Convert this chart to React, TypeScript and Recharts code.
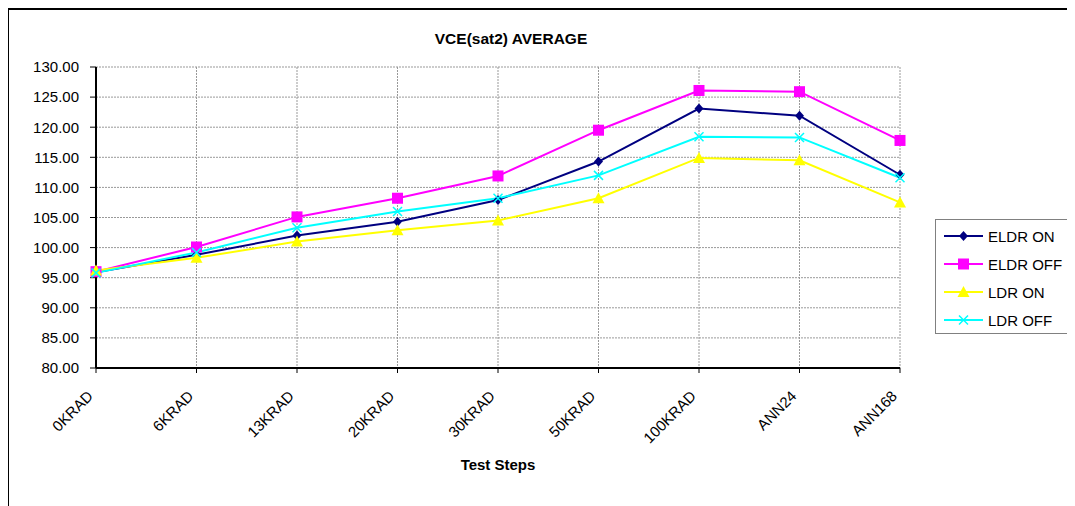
import React from "react";
import { LineChart, Line, XAxis, YAxis, CartesianGrid, Label } from "recharts";

const categories = ["0KRAD", "6KRAD", "13KRAD", "20KRAD", "30KRAD", "50KRAD", "100KRAD", "ANN24", "ANN168"];
const eldrOn = [95.9, 98.8, 102.0, 104.3, 107.9, 114.3, 123.1, 121.9, 112.1];
const eldrOff = [96.0, 100.1, 105.1, 108.2, 111.9, 119.5, 126.1, 125.9, 117.8];
const ldrOn = [96.2, 98.3, 101.0, 102.9, 104.5, 108.2, 114.9, 114.5, 107.5];
const ldrOff = [95.8, 99.2, 103.3, 106.0, 108.2, 112.0, 118.4, 118.3, 111.6];
const yTicks = [80, 85, 90, 95, 100, 105, 110, 115, 120, 125, 130];

const data = categories.map((name, i) => ({
  name,
  eldrOn: eldrOn[i],
  eldrOff: eldrOff[i],
  ldrOn: ldrOn[i],
  ldrOff: ldrOff[i],
}));

const FONT = "'Liberation Sans', Arial, sans-serif";

type MarkerKind = "diamond" | "square" | "triangle" | "cross";

const series: { key: string; name: string; color: string; marker: MarkerKind }[] = [
  { key: "eldrOn", name: "ELDR ON", color: "#000080", marker: "diamond" },
  { key: "eldrOff", name: "ELDR OFF", color: "#FF00FF", marker: "square" },
  { key: "ldrOn", name: "LDR ON", color: "#FFFF00", marker: "triangle" },
  { key: "ldrOff", name: "LDR OFF", color: "#00FFFF", marker: "cross" },
];

const Marker = ({ cx, cy, kind, color }: { cx: number; cy: number; kind: MarkerKind; color: string }) => {
  if (cx == null || cy == null) return null;
  if (kind === "diamond")
    return <path d={`M${cx},${cy - 5}L${cx + 4.5},${cy}L${cx},${cy + 5}L${cx - 4.5},${cy}Z`} fill={color} />;
  if (kind === "square") return <rect x={cx - 5.5} y={cy - 5.5} width={11} height={11} fill={color} />;
  if (kind === "triangle")
    return <path d={`M${cx},${cy - 6}L${cx + 6},${cy + 5}L${cx - 6},${cy + 5}Z`} fill={color} />;
  return (
    <path
      d={`M${cx - 4.5},${cy - 4.5}L${cx + 4.5},${cy + 4.5}M${cx + 4.5},${cy - 4.5}L${cx - 4.5},${cy + 4.5}`}
      stroke={color}
      strokeWidth={1.5}
    />
  );
};

const XTick = (props: any) => {
  const { x, y, payload } = props;
  const tx = x - 2;
  const ty = y + 22;
  return (
    <text
      x={tx}
      y={ty}
      transform={`rotate(-45, ${tx}, ${ty})`}
      textAnchor="end"
      fontSize={15}
      fontFamily={FONT}
      fill="#000"
    >
      {payload.value}
    </text>
  );
};

const LegendBox = () => (
  <div
    style={{
      position: "absolute",
      left: 926,
      top: 209,
      width: 134,
      height: 113,
      border: "1px solid #808080",
      background: "#fff",
      fontFamily: FONT,
      fontSize: 15,
    }}
  >
    {series.map((s, i) => (
      <div
        key={s.key}
        style={{ position: "absolute", left: 7, top: 6 + i * 28, height: 20, display: "flex", alignItems: "center" }}
      >
        <svg width={42} height={20}>
          <line x1={1} y1={10} x2={40} y2={10} stroke={s.color} strokeWidth={2} />
          <Marker cx={20.5} cy={10} kind={s.marker} color={s.color} />
        </svg>
        <span style={{ marginLeft: 3 }}>{s.name}</span>
      </div>
    ))}
  </div>
);

export default function App() {
  return (
    <div
      style={{
        marginLeft: -1,
        width: 1068,
        height: 498,
        borderLeft: "2px solid #000",
        borderTop: "2px solid #000",
        position: "relative",
        background: "#fff",
      }}
    >
      <div
        style={{
          position: "absolute",
          left: 0,
          top: 20,
          width: 1004,
          textAlign: "center",
          fontFamily: FONT,
          fontWeight: "bold",
          fontSize: 15.5,
        }}
      >
        VCE(sat2) AVERAGE
      </div>
      <LineChart
        width={1066}
        height={496}
        data={data}
        margin={{ top: 57, right: 175, left: 7, bottom: 28 }}
        style={{ fontFamily: FONT }}
      >
        <CartesianGrid stroke="#999" strokeDasharray="2 1" strokeWidth={1} />
        <XAxis
          dataKey="name"
          height={110}
          interval={0}
          tickSize={5}
          tick={<XTick />}
          tickLine={{ stroke: "#000" }}
          axisLine={{ stroke: "#000", strokeWidth: 2 }}
        >
          <Label
            value="Test Steps"
            position="insideBottom"
            offset={8}
            style={{ fontWeight: "bold", fontSize: 15, fill: "#000", fontFamily: FONT }}
          />
        </XAxis>
        <XAxis xAxisId="top" dataKey="name" orientation="top" height={0} tick={false} tickLine={false} axisLine={{ stroke: "#808080", strokeWidth: 2 }} />
        <YAxis
          width={80}
          domain={[80, 130]}
          ticks={yTicks}
          interval={0}
          tickFormatter={(v: number) => v.toFixed(2)}
          tickSize={6}
          tickMargin={11}
          tick={{ fill: "#000", fontSize: 15, fontFamily: FONT }}
          tickLine={{ stroke: "#000" }}
          axisLine={{ stroke: "#000", strokeWidth: 2 }}
        />
        <YAxis yAxisId="right" orientation="right" width={0} domain={[80, 130]} tick={false} tickLine={false} axisLine={{ stroke: "#808080", strokeWidth: 2 }} />
        {series.map((s) => (
          <Line
            key={s.key}
            dataKey={s.key}
            name={s.name}
            stroke={s.color}
            strokeWidth={2}
            isAnimationActive={false}
            dot={(p: any) => <Marker key={`${s.key}-${p.index}`} cx={p.cx} cy={p.cy} kind={s.marker} color={s.color} />}
            activeDot={false}
          />
        ))}
      </LineChart>
      <LegendBox />
    </div>
  );
}
